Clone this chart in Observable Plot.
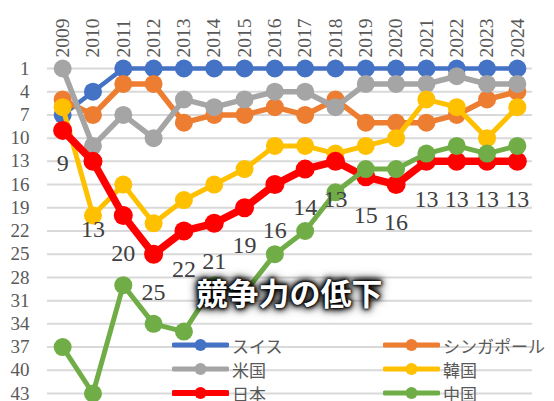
<!DOCTYPE html>
<html>
<head>
<meta charset="utf-8">
<script src="https://cdn.jsdelivr.net/npm/d3@7"></script>
<script src="https://cdn.jsdelivr.net/npm/@observablehq/plot@0.6"></script>
<style>
  html, body { margin: 0; padding: 0; background: #fff; }
  #wrap { position: relative; width: 554px; height: 401px; overflow: hidden; }
  #legend { position: absolute; left: 0; top: 0; width: 554px; height: 401px; pointer-events: none; }
  .item { position: absolute; display: flex; align-items: center; height: 22px;
          font-family: "Noto Sans CJK JP", sans-serif; font-size: 17px; color: #595959; }
  .item svg { display: block; margin-right: 3px; }
  #note { position: absolute; font-family: "Noto Sans CJK JP", sans-serif; font-weight: 700;
          font-size: 31px; color: #fff; white-space: nowrap; transform: translate(-50%, -50%);
          text-shadow: 0 0 2px #000, 0 0 3px #000, 0 0 5px #000, 0 0 7px #000, 0 0 9px #111, 0 0 12px #333; }
</style>
</head>
<body>
<div id="wrap"></div>
<script>
const years = [2009,2010,2011,2012,2013,2014,2015,2016,2017,2018,2019,2020,2021,2022,2023,2024];
const rankTicks = [1,4,7,10,13,16,19,22,25,28,31,34,37,40,43];

const swiss     = [7,4,1,1,1,1,1,1,1,1,1,1,1,1,1,1];
const singapore = [5,7,3,3,8,7,7,6,7,5,8,8,8,7,5,4];
const usa       = [1,11,7,10,5,6,5,4,4,6,3,3,3,2,3,3];
const korea     = [6,20,16,21,18,16,14,11,11,12,11,10,5,6,10,6];
const japan     = [9,13,20,25,22,21,19,16,14,13,15,16,13,13,13,13];
const china     = [37,43,29,34,35,29,30,25,22,17,14,14,12,11,12,11];

const seriesNames = ["スイス","シンガポール","米国","韓国","日本","中国"];
const seriesValues = [swiss, singapore, usa, korea, japan, china];
const colors = ["#4472C4","#ED7D31","#A5A5A5","#FFC000","#FF0000","#70AD47"];
const lineWidths = [4.5, 5.5, 5.5, 5, 7.5, 5];

const noteText = "競争力の低下";

// extra vertical nudge (px) for some Japan data labels
const labelNudge = {2009: -5, 2010: 30, 2016: 8};

const marks = [
  Plot.gridY(rankTicks, {stroke: "#D9D9D9", strokeWidth: 2, strokeOpacity: 1}),
  Plot.axisY(rankTicks, {tickSize: 0, tickPadding: 18, fontSize: 19, fill: "#595959",
    fontFamily: "Liberation Serif, serif", label: null}),
  Plot.axisX(years, {anchor: "top", tickRotate: -90, tickSize: 0, tickPadding: 11, label: null,
    fontSize: 19.5, fill: "#595959", fontFamily: "Liberation Serif, serif", tickFormat: d => String(d)})
];

seriesValues.forEach((vals, i) => {
  const data = years.map((y, j) => ({year: y, rank: vals[j]}));
  marks.push(Plot.line(data, {x: "year", y: "rank", stroke: colors[i], strokeWidth: lineWidths[i],
    strokeLinejoin: "round", strokeLinecap: "round"}));
  marks.push(Plot.dot(data, {x: "year", y: "rank", fill: colors[i], r: i === 4 ? 9.5 : 9}));
});

const jpData = years.map((y, j) => ({year: y, rank: japan[j]}));
for (const group of [null, ...Object.keys(labelNudge).map(Number)]) {
  const data = group === null ? jpData.filter(d => !(d.year in labelNudge)) : jpData.filter(d => d.year === group);
  marks.push(Plot.text(data, {x: "year", y: "rank", text: d => String(d.rank),
    dy: 38 + (group === null ? 0 : labelNudge[group]), fontSize: 24, fill: "#404040",
    fontFamily: "Liberation Serif, serif"}));
}

const chart = Plot.plot({
  width: 554,
  height: 401,
  marginTop: 68,
  marginBottom: 8,
  marginLeft: 47,
  marginRight: 22,
  style: {background: "transparent", overflow: "visible"},
  x: {type: "linear", domain: [2008.5, 2024.5]},
  y: {domain: [1, 43], reverse: true},
  marks
});

const wrap = document.getElementById("wrap");
wrap.appendChild(chart);

// annotation, placed through the plot's scales
const note = document.createElement("div");
note.id = "note";
note.textContent = noteText;
note.style.left = chart.scale("x").apply(2016.5) + "px";
note.style.top = chart.scale("y").apply(29.8) + "px";
wrap.appendChild(note);

// legend inside the plot area (two columns, row-major)
const legend = document.createElement("div");
legend.id = "legend";
const colLeft = [172, 383];
const rowTop = [334, 358, 382];
seriesNames.forEach((name, i) => {
  const item = document.createElement("div");
  item.className = "item";
  item.style.left = colLeft[i % 2] + "px";
  item.style.top = rowTop[Math.floor(i / 2)] + "px";
  item.innerHTML = `<svg width="57" height="22"><line x1="2" x2="55" y1="11" y2="11" stroke="${colors[i]}" stroke-width="${i === 4 ? 6 : 5}" stroke-linecap="round"/><circle cx="28.5" cy="11" r="6" fill="${colors[i]}"/></svg><span>${name}</span>`;
  legend.appendChild(item);
});
wrap.appendChild(legend);
</script>
</body>
</html>
